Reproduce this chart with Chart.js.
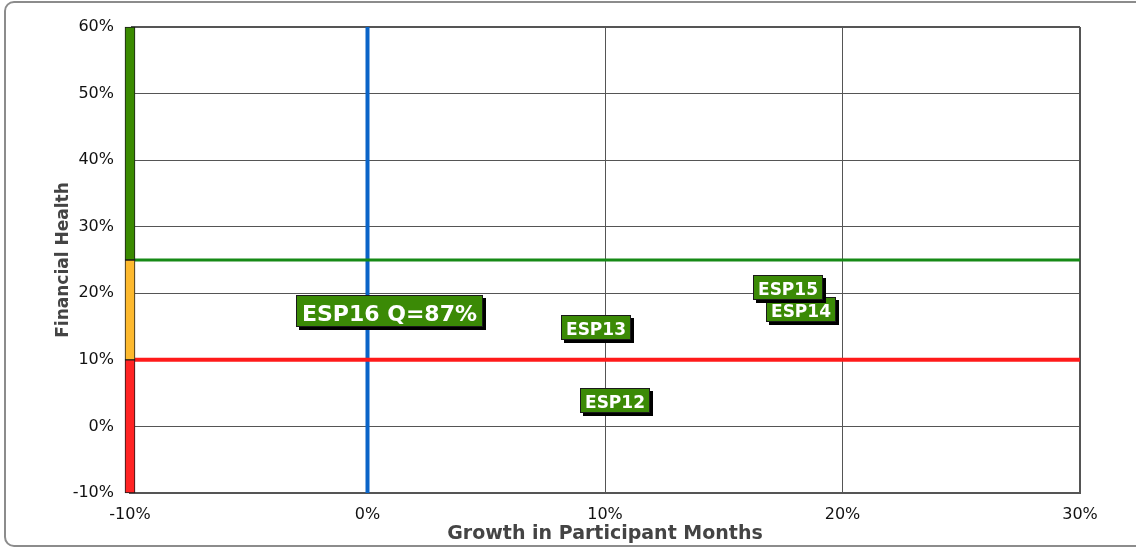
<!DOCTYPE html>
<html><head><meta charset="utf-8">
<script src="https://cdn.jsdelivr.net/npm/chart.js@4.4.1/dist/chart.umd.min.js"></script>
<style>
html,body{margin:0;padding:0;background:#fff;overflow:hidden;}
#frame{position:absolute;left:4px;top:1px;width:1150px;height:546px;border:2px solid #8c8c8c;border-radius:10px;box-sizing:border-box;}
#wrap{position:absolute;left:0;top:0;width:1136px;height:548px;}
</style></head><body>
<div id="frame"></div>
<div id="wrap"><canvas id="c" width="1136" height="548"></canvas></div>
<script>
// ---- data ----
const programs = ['ESP12', 'ESP13', 'ESP14', 'ESP15'];
const growth = [10.4, 9.6, 18.25, 17.7];
const health = [3.85, 14.9, 17.5, 20.8];
const currentLabel = ['ESP16 Q=87%'];
const currentGrowth = [0.94];
const currentHealth = [17.3];
const healthyLine = 25;
const weakLine = 10;
const zeroGrowth = 0;
const bandLow = [25, 10, -10];
const bandHigh = [60, 25, 10];
const xMin = -10, xMax = 30, xStep = 10;
const yMin = -10, yMax = 60, yStep = 10;

// ---- label plugin ----
const boxLabels = {
  id: 'boxLabels',
  afterDatasetsDraw(chart) {
    const ctx = chart.ctx;
    chart.data.datasets.forEach((ds, i) => {
      if (!ds.boxLabels) return;
      const meta = chart.getDatasetMeta(i);
      meta.data.forEach((pt, j) => {
        const text = ds.boxLabels[j];
        ctx.save();
        ctx.font = 'bold ' + ds.labelSize + 'px "DejaVu Sans"';
        const w = Math.round(ctx.measureText(text).width + 2 * ds.labelPadX);
        const h = ds.labelBoxH;
        const x = Math.round(pt.x - w / 2), y = Math.round(pt.y - h / 2);
        ctx.fillStyle = '#000';
        ctx.fillRect(x + 3, y + 3, w, h);
        ctx.fillStyle = '#3b8a06';
        ctx.fillRect(x, y, w, h);
        ctx.strokeStyle = '#1a1a1a';
        ctx.lineWidth = 1;
        ctx.strokeRect(x + 0.5, y + 0.5, w - 1, h - 1);
        ctx.fillStyle = '#fff';
        ctx.textAlign = 'center';
        ctx.textBaseline = 'alphabetic';
        ctx.fillText(text, x + w / 2, y + h / 2 + 0.365 * ds.labelSize + 1.5);
        ctx.restore();
      });
    });
  }
};

const bandColors = ['#3a8a00', '#fdb92e', '#ff2424'];

new Chart(document.getElementById('c'), {
  type: 'scatter',
  data: {
    datasets: [
      {
        type: 'bar',
        data: bandLow.map((lo, i) => ({ x: xMin, y: [lo, bandHigh[i]] })),
        backgroundColor: bandColors,
        borderColor: '#1a1a1a',
        borderWidth: 1,
        borderSkipped: false,
        barThickness: 10,
        grouped: false,
        clip: false,
        order: 0
      },
      {
        type: 'line',
        data: [{ x: xMin, y: healthyLine }, { x: xMax, y: healthyLine }],
        borderColor: '#168a16',
        borderWidth: 3,
        pointRadius: 0,
        order: 2
      },
      {
        type: 'line',
        data: [{ x: xMin, y: weakLine }, { x: xMax, y: weakLine }],
        borderColor: '#ff1a1a',
        borderWidth: 4,
        pointRadius: 0,
        order: 2
      },
      {
        type: 'line',
        data: [{ x: zeroGrowth, y: yMin }, { x: zeroGrowth, y: yMax }],
        borderColor: '#0a64c8',
        borderWidth: 4,
        pointRadius: 0,
        order: 3
      },
      {
        data: growth.map((g, i) => ({ x: g, y: health[i] })),
        pointRadius: 0,
        boxLabels: programs,
        labelSize: 17,
        labelPadX: 5,
        labelBoxH: 25,
        order: 4
      },
      {
        data: currentGrowth.map((g, i) => ({ x: g, y: currentHealth[i] })),
        pointRadius: 0,
        boxLabels: currentLabel,
        labelSize: 22,
        labelPadX: 6,
        labelBoxH: 32,
        order: 4
      }
    ]
  },
  options: {
    responsive: false,
    animation: false,
    devicePixelRatio: 1,
    layout: { padding: { left: 0, top: 27, right: 56, bottom: 0 } },
    plugins: { legend: { display: false }, tooltip: { enabled: false } },
    scales: {
      x: {
        type: 'linear',
        position: 'bottom',
        min: xMin, max: xMax,
        offset: false,
        afterFit(s) { s.height = 55; },
        ticks: {
          stepSize: xStep,
          padding: 12,
          color: '#111',
          font: { family: 'DejaVu Sans', size: 16 },
          callback: v => v + '%'
        },
        grid: {
          offset: false,
          drawTicks: false,
          color: '#555',
          lineWidth: c => (c.tick && c.tick.value === xMax) ? 2 : 1
        },
        border: { color: '#555', width: 2 },
        title: {
          display: true,
          text: 'Growth in Participant Months',
          color: '#444',
          font: { family: 'DejaVu Sans', size: 19, weight: 'bold' },
          padding: { top: 0, bottom: 3 }
        }
      },
      y: {
        type: 'linear',
        min: yMin, max: yMax,
        afterFit(s) { s.width = 130; },
        ticks: {
          stepSize: yStep,
          padding: 16,
          color: '#111',
          font: { family: 'DejaVu Sans', size: 16 },
          callback: v => v + '%'
        },
        grid: {
          drawTicks: false,
          color: '#555',
          lineWidth: c => (c.tick && c.tick.value === yMax) ? 2 : 1
        },
        border: { color: '#555', width: 1 },
        title: {
          display: true,
          text: 'Financial Health',
          color: '#444',
          font: { family: 'DejaVu Sans', size: 17, weight: 'bold' },
          padding: { top: 53, bottom: 0 }
        }
      }
    }
  },
  plugins: [boxLabels]
});
</script>
</body></html>
